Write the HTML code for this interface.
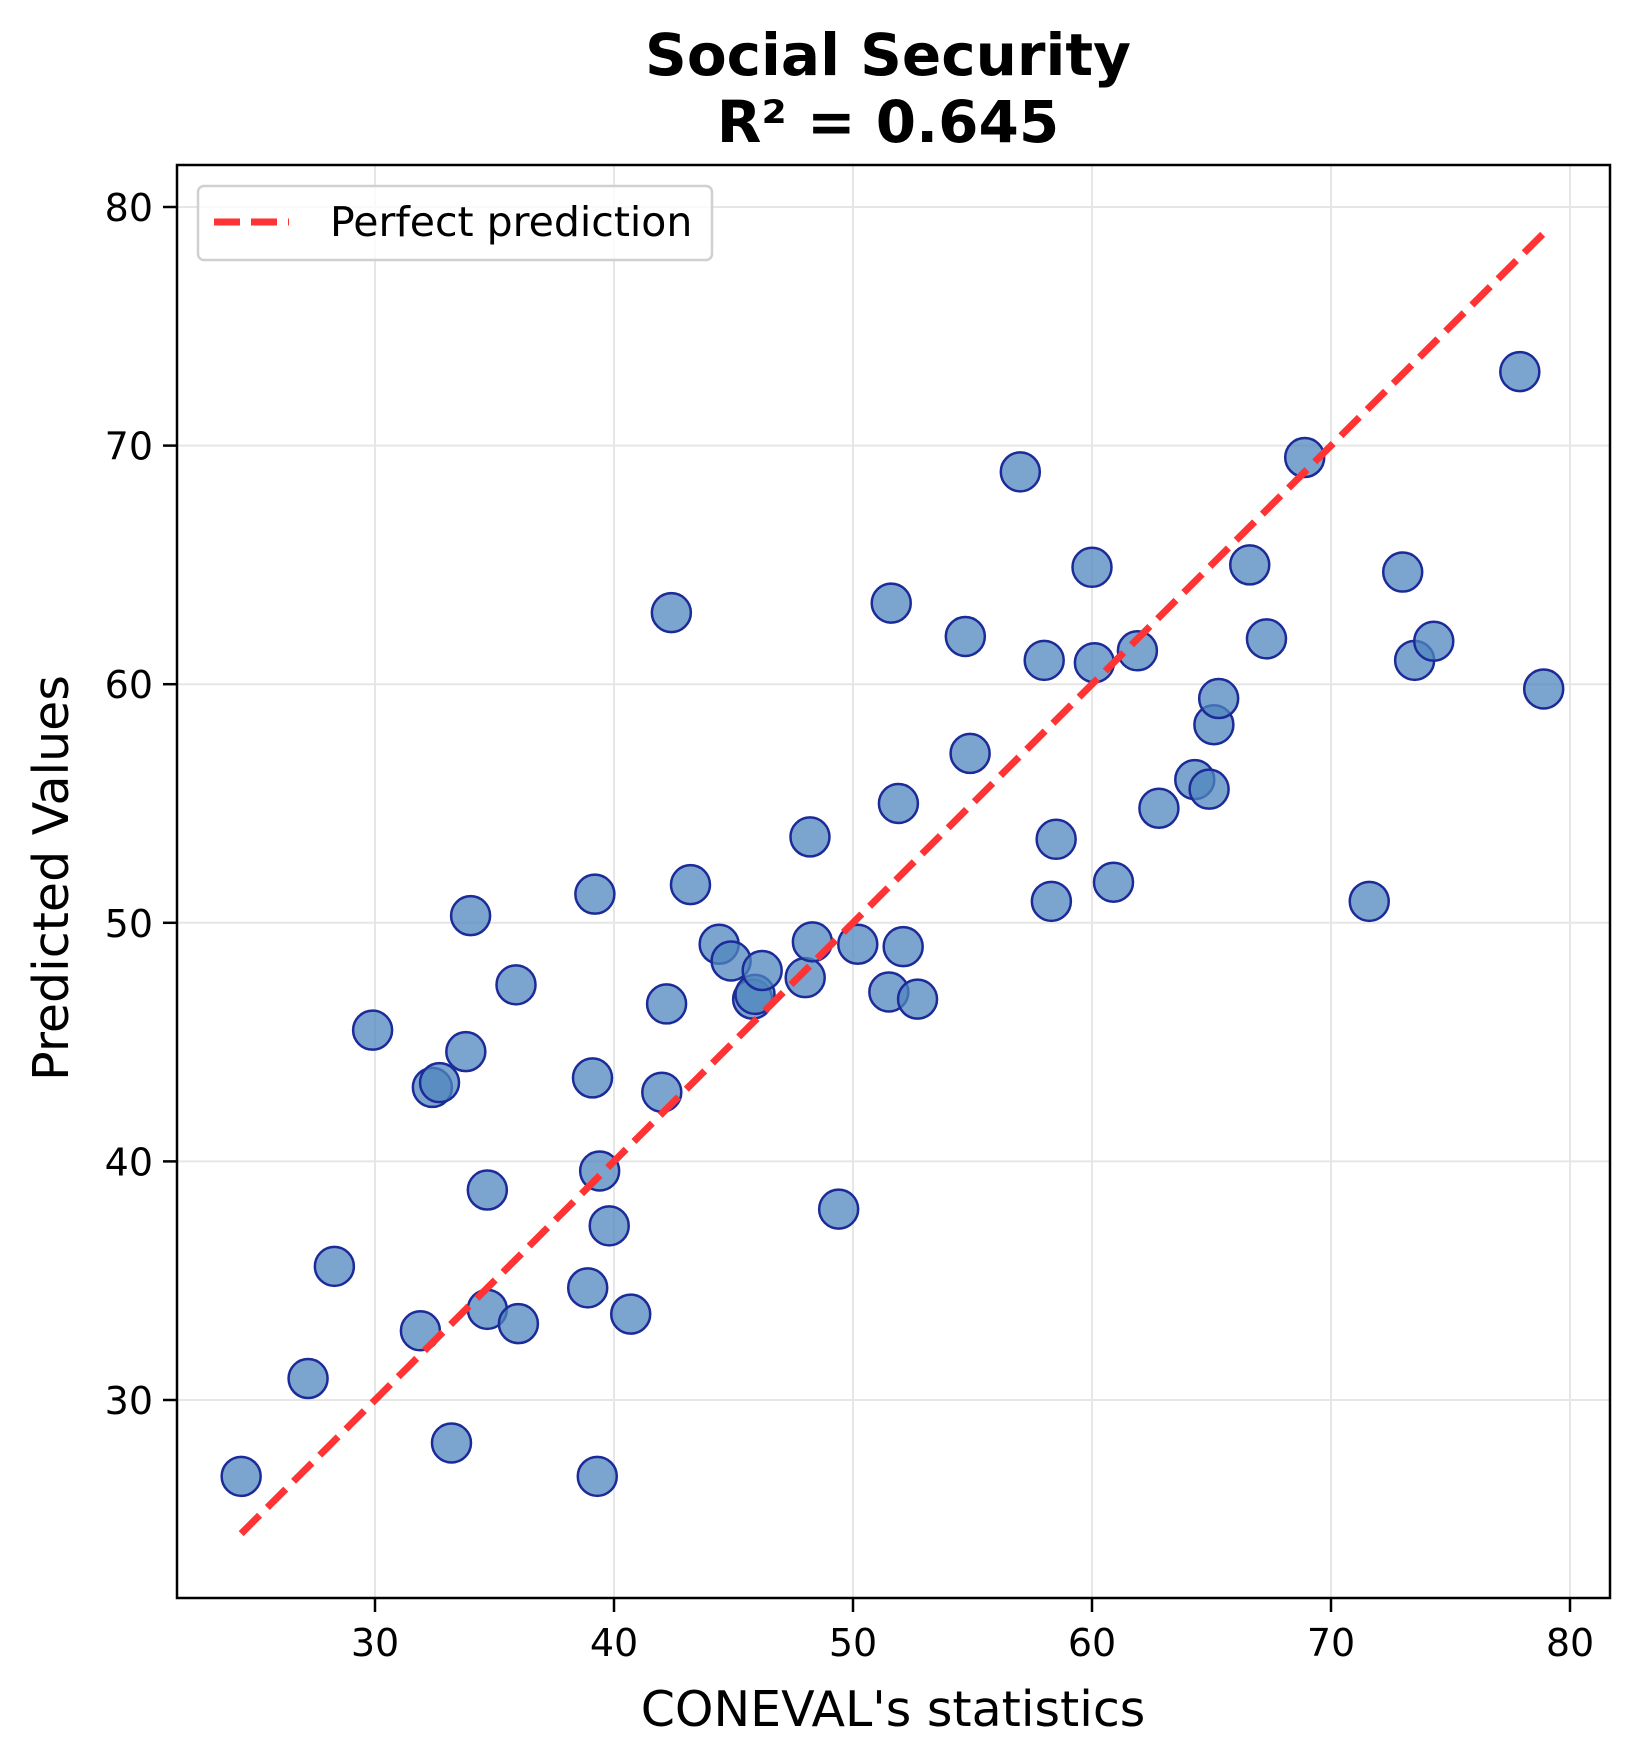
<!DOCTYPE html>
<html><head><meta charset="utf-8"><style>body{margin:0;background:#fff}svg{display:block}text{font-family:"DejaVu Sans","Liberation Sans",sans-serif}</style></head>
<body>
<svg id="chart" width="1639" height="1764">
<g id="grid"></g>
<g id="axes"></g>
<g id="marks"></g>
<text x="888" y="75" text-anchor="middle" font-size="58" font-weight="bold">Social Security</text>
<text x="888" y="142" text-anchor="middle" font-size="58" font-weight="bold">R² = 0.645</text>
<text x="893" y="1726" text-anchor="middle" font-size="49">CONEVAL's statistics</text>
<text transform="translate(68,878) rotate(-90)" text-anchor="middle" font-size="49">Predicted Values</text>
<g>
<rect x="198" y="186" width="514" height="74" rx="6" fill="#fff" fill-opacity="0.8" stroke="#d0d0d0" stroke-width="2.5"/>
<line x1="214" y1="222" x2="289" y2="222" stroke="#ff3333" stroke-width="7" stroke-dasharray="26,11"/>
<text x="330" y="236" font-size="41">Perfect prediction</text>
</g>
</svg>
<script>
const xs=[24.4,27.2,28.3,29.9,31.9,32.4,32.7,33.2,33.8,34.0,34.7,34.7,35.9,36.0,38.9,39.1,39.2,39.3,39.4,39.8,40.7,42.0,42.2,42.4,43.2,44.4,44.9,45.8,45.9,46.2,48.0,48.2,48.3,49.4,50.2,51.5,51.6,51.9,52.1,52.7,54.7,54.9,57.0,58.0,58.3,58.5,60.0,60.1,60.9,61.9,62.8,64.3,64.9,65.1,65.3,66.6,67.3,68.9,71.6,73.0,73.5,74.3,77.9,78.9];
const ys=[26.8,30.9,35.6,45.5,32.9,43.1,43.3,28.2,44.6,50.3,33.8,38.8,47.4,33.2,34.7,43.5,51.2,26.8,39.6,37.3,33.6,42.9,46.6,63.0,51.6,49.1,48.4,46.8,47.0,48.0,47.7,53.6,49.2,38.0,49.1,47.1,63.4,55.0,49.0,46.8,62.0,57.1,68.9,61.0,50.9,53.5,64.9,60.9,51.7,61.4,54.8,56.0,55.6,58.3,59.4,65.0,61.9,69.5,50.9,64.7,61.0,61.8,73.1,59.8];
const xTicks=[30,40,50,60,70,80];
const yTicks=[30,40,50,60,70,80];
const lineRange=[24.4,78.9];
const NS="http://www.w3.org/2000/svg";
const L=177,R=1610,T=165,B=1598;
const sx=v=>1570+(v-80)*23.9;
const sy=v=>207+(80-v)*23.86;
function mk(t,a,p){const e=document.createElementNS(NS,t);for(const k in a)e.setAttribute(k,a[k]);p.appendChild(e);return e;}
const grid=document.getElementById('grid'),axes=document.getElementById('axes'),marks=document.getElementById('marks');
xTicks.forEach(v=>{
 const g=mk('line',{x1:sx(v),x2:sx(v),y1:T,y2:B,stroke:'#e6e6e6','stroke-width':2},grid);
 
 
 const t=mk('line',{x1:sx(v),x2:sx(v),y1:B,y2:B+14,stroke:'#000','stroke-width':2.5},axes);
 
 
 const l=mk('text',{x:sx(v),y:B+58,'text-anchor':'middle','font-size':38},axes);l.textContent=v;
 
 
});
yTicks.forEach(v=>{
 const g=mk('line',{x1:L,x2:R,y1:sy(v),y2:sy(v),stroke:'#e6e6e6','stroke-width':2},grid);
 
 
 const t=mk('line',{x1:L-14,x2:L,y1:sy(v),y2:sy(v),stroke:'#000','stroke-width':2.5},axes);
 
 
 const l=mk('text',{x:L-24,y:sy(v)+14,'text-anchor':'end','font-size':38},axes);l.textContent=v;
 
 
});
const fr=mk('rect',{x:L,y:T,width:R-L,height:B-T,fill:'none',stroke:'#000','stroke-width':2.5},axes);


xs.forEach((x,i)=>{
 const c=mk('circle',{cx:sx(x),cy:sy(ys[i]),r:19.5,fill:'#4f86bd','fill-opacity':0.75,stroke:'#1c2b99','stroke-width':2.5},marks);
 
 
});
const pl=mk('line',{x1:sx(lineRange[0]),y1:sy(lineRange[0]),x2:sx(lineRange[1]),y2:sy(lineRange[1]),stroke:'#ff3333','stroke-width':7,'stroke-dasharray':'26,11'},marks);


</script>
</body></html>
